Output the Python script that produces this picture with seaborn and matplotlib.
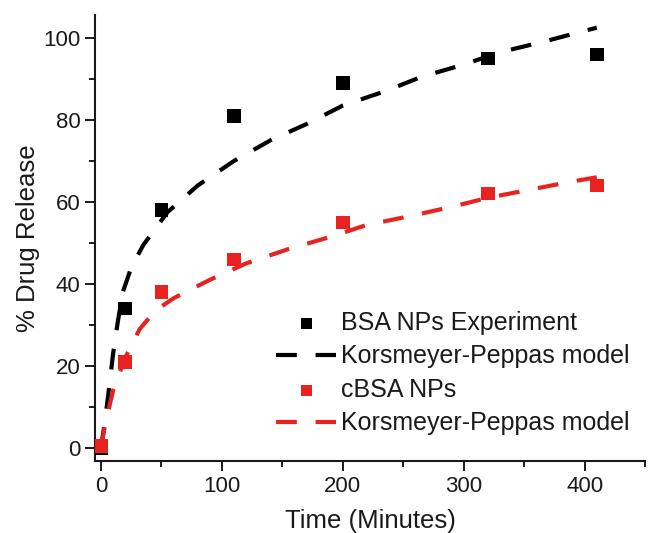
import numpy as np
import pandas as pd
import matplotlib
matplotlib.use("Agg")
import matplotlib.pyplot as plt
from matplotlib.ticker import MultipleLocator
import seaborn as sns

# experimental points (time in minutes, % released)
exp_time = [0, 20, 50, 110, 200, 320, 410]
bsa_release = [0, 34, 58, 81, 89, 95, 96]
cbsa_release = [0.5, 21, 38, 46, 55, 62, 64]

# Korsmeyer-Peppas model curves
bsa_model_t = [0, 3, 6, 10, 14, 18, 25, 35, 55, 80, 110, 140, 170, 200, 235, 265, 300, 330, 365, 410]
bsa_model_y = [0, 6, 13, 23, 31, 38, 44, 49.5, 57.5, 64, 70, 75, 79, 83.5, 87, 90.5, 93.5, 96.5, 99, 102.5]
cbsa_model_t = [0, 3, 6, 10, 15, 20, 32, 45, 60, 90, 120, 155, 190, 220, 255, 290, 320, 355, 390, 410]
cbsa_model_y = [0, 5, 9, 14, 18, 22, 29, 33.5, 36.5, 41, 45, 48.5, 51.5, 54.4, 56.5, 58.8, 61, 63, 65, 66]

BLACK = "#000000"
RED = "#e8231f"
INK = "#1a1a1a"

sns.set_style("ticks")
plt.rcParams["font.family"] = ["Liberation Sans", "DejaVu Sans"]
plt.rcParams["text.color"] = INK
plt.rcParams["axes.labelcolor"] = INK
plt.rcParams["xtick.color"] = INK
plt.rcParams["ytick.color"] = INK

fig = plt.figure(figsize=(6.55, 5.33), dpi=100)
ax = fig.add_axes([0.145, 0.135, 0.84, 0.837])

sns.scatterplot(x=exp_time, y=bsa_release, ax=ax, marker="s", s=95, color=BLACK,
                edgecolor="none", label="BSA NPs Experiment", zorder=3)
sns.lineplot(x=bsa_model_t, y=bsa_model_y, ax=ax, color=BLACK, lw=3,
             label="Korsmeyer-Peppas model", zorder=2)
sns.scatterplot(x=exp_time, y=cbsa_release, ax=ax, marker="s", s=95, color=RED,
                edgecolor="none", label="cBSA NPs", zorder=3)
sns.lineplot(x=cbsa_model_t, y=cbsa_model_y, ax=ax, color=RED, lw=3,
             label="Korsmeyer-Peppas model", zorder=2)
for ln in ax.lines:
    ln.set_dashes((5, 4.5))

ax.set_xlim(-5, 450)
ax.set_ylim(-3.2, 105.6)
ax.xaxis.set_major_locator(MultipleLocator(100))
ax.xaxis.set_minor_locator(MultipleLocator(50))
ax.yaxis.set_major_locator(MultipleLocator(20))
ax.yaxis.set_minor_locator(MultipleLocator(10))
ax.tick_params(which="major", length=7, width=1.4, labelsize=16)
ax.tick_params(which="minor", length=4, width=1.4)
for side in ["left", "bottom"]:
    ax.spines[side].set_linewidth(1.5)
    ax.spines[side].set_color(INK)
sns.despine(ax=ax)

ax.set_xlabel("Time (Minutes)", fontsize=18.5, labelpad=9)
ax.set_ylabel("% Drug Release", fontsize=18.5, labelpad=2)

h, l = ax.get_legend_handles_labels()
leg = ax.legend(h, l, loc="lower right", bbox_to_anchor=(0.99, 0.035), frameon=False,
                fontsize=18, handlelength=2.4, handletextpad=0.2, labelspacing=0.38,
                borderaxespad=0.0, markerscale=0.8)
for lh in leg.get_lines():
    lh.set_dashes((5, 4.5))

fig.savefig("out.png", dpi=100)
